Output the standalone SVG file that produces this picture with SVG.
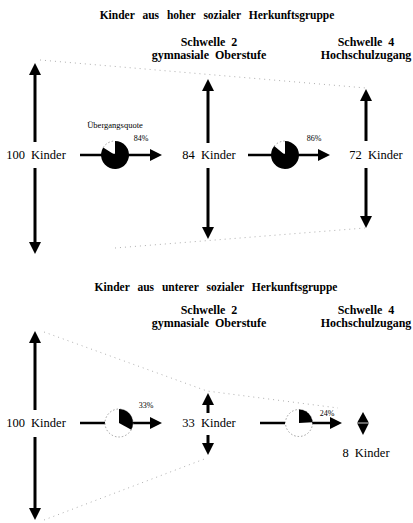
<svg xmlns="http://www.w3.org/2000/svg" width="413" height="523" viewBox="0 0 413 523">
<defs>
<marker id="ah" viewBox="0 0 12 12" refX="1" refY="6" markerWidth="12" markerHeight="12" markerUnits="userSpaceOnUse" orient="auto">
<path d="M0,0 L12,6 L0,12 Z" fill="#000"/>
</marker>
<style>
.t{font-family:"Liberation Serif","Times New Roman",serif;fill:#000;text-anchor:middle}
.title{font-size:11.5px;font-weight:bold;word-spacing:5px}
.hd{font-size:12px;font-weight:bold;word-spacing:3px}
.lb{font-size:12.5px;word-spacing:3px}
.pc{font-size:8px}
.sm{font-size:8.5px}
.ar{stroke:#000;stroke-width:3;fill:none;marker-end:url(#ah)}
.hl{stroke:#000;stroke-width:2.5;fill:none}
.dot{stroke:#999;stroke-width:0.8;stroke-dasharray:1 4;fill:none}
.pdot{stroke:#888;stroke-width:0.8;stroke-dasharray:1.5 2;fill:none}
</style>
</defs>
<rect width="413" height="523" fill="#fff"/>

<g id="connectors">
<line class="ar" x1="35" y1="142" x2="35" y2="74"/>
<line class="ar" x1="35" y1="168" x2="35" y2="243"/>
<line class="ar" x1="208" y1="143" x2="208" y2="90"/>
<line class="ar" x1="208" y1="168" x2="208" y2="228"/>
<line class="ar" x1="366" y1="141" x2="366" y2="100"/>
<line class="ar" x1="366" y1="168" x2="366" y2="217"/>
<line class="ar" style="stroke-width:2.5" x1="80" y1="155" x2="151" y2="155"/>
<line class="ar" style="stroke-width:2.5" x1="248" y1="155" x2="319" y2="155"/>
<polyline class="dot" points="40,60 366,88"/>
<polyline class="dot" points="115,248 365,228"/>
<line class="ar" x1="35" y1="410" x2="35" y2="342"/>
<line class="ar" x1="35" y1="437" x2="35" y2="509"/>
<line class="hl" x1="80" y1="423" x2="105" y2="423"/>
<line class="ar" style="stroke-width:2.5" x1="133" y1="423" x2="151" y2="423"/>
<line class="hl" x1="260" y1="423" x2="285" y2="423"/>
<line class="ar" style="stroke-width:2.5" x1="312" y1="423" x2="331" y2="423"/>
<line class="ar" x1="208" y1="413" x2="208" y2="404"/>
<line class="ar" x1="208" y1="435" x2="208" y2="444"/>
<polyline class="dot" points="44,332 207,391 338,408"/>
<polyline class="dot" points="44,520 207,458"/>
</g>

<g id="pie-84">
<path d="M115,155 L115,141 A14,14 0 1 1 103.2,147.5 Z" fill="#000"/>
<path class="pdot" d="M103.2,147.5 A14,14 0 0 1 115,141"/>
</g>
<g id="pie-86">
<path d="M285,155 L285,141 A14,14 0 1 1 274.2,146.1 Z" fill="#000"/>
<path class="pdot" d="M274.2,146.1 A14,14 0 0 1 285,141"/>
</g>
<g id="pie-33">
<circle class="pdot" cx="119" cy="423" r="14"/>
<path d="M119,423 L119,409 A14,14 0 0 1 131.3,429.7 Z" fill="#000"/>
</g>
<g id="pie-24">
<circle class="pdot" cx="299" cy="423" r="13.5"/>
<path d="M299,423 L299,409.5 A13.5,13.5 0 0 1 312.5,422.2 Z" fill="#000"/>
</g>

<g id="diamond-8">
<path d="M363,412 L369,423 L363,435 L357,423 Z" fill="#000"/>
<line x1="356" y1="423" x2="370" y2="423" stroke="#fff" stroke-width="0.8"/>
</g>

<g id="top-title"><text class="t title" x="217" y="19">Kinder aus hoher sozialer Herkunftsgruppe</text></g>
<g id="top-s2"><text class="t hd" x="209" y="46">Schwelle 2</text><text class="t hd" x="209" y="59">gymnasiale Oberstufe</text></g>
<g id="top-s4"><text class="t hd" x="366" y="46">Schwelle 4</text><text class="t hd" x="366" y="59">Hochschulzugang</text></g>
<g id="top-100"><text class="t lb" x="36" y="159">100 Kinder</text></g>
<g id="top-84"><text class="t lb" x="209" y="159">84 Kinder</text></g>
<g id="top-72"><text class="t lb" x="376" y="159">72 Kinder</text></g>
<g id="top-labels">
<text class="t sm" x="115" y="128">Übergangsquote</text>
<text class="t pc" x="141" y="141">84%</text>
<text class="t pc" x="314" y="141">86%</text>
</g>

<g id="bot-title"><text class="t title" x="216" y="291">Kinder aus unterer sozialer Herkunftsgruppe</text></g>
<g id="bot-s2"><text class="t hd" x="209" y="314">Schwelle 2</text><text class="t hd" x="209" y="327">gymnasiale Oberstufe</text></g>
<g id="bot-s4"><text class="t hd" x="366" y="314">Schwelle 4</text><text class="t hd" x="366" y="327">Hochschulzugang</text></g>
<g id="bot-100"><text class="t lb" x="36" y="427">100 Kinder</text></g>
<g id="bot-33"><text class="t lb" x="209" y="427">33 Kinder</text></g>
<g id="bot-8"><text class="t lb" x="366" y="457">8 Kinder</text></g>
<g id="bot-labels">
<text class="t pc" x="146" y="408">33%</text>
<text class="t pc" x="327" y="416">24%</text>
</g>
</svg>
